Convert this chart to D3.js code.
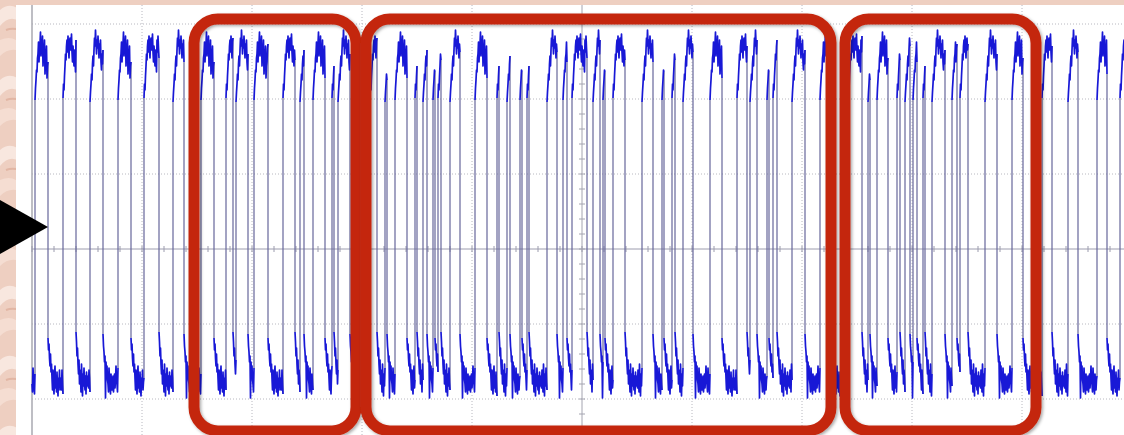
<!DOCTYPE html>
<html>
<head>
<meta charset="utf-8">
<script src="https://cdn.jsdelivr.net/npm/d3@7"></script>
<style>
  body { margin: 0; background: #fff; }
  svg { display: block; }
</style>
</head>
<body>
<div id="chart"></div>
<script>
// edges of each high pulse, in time units (1 div = 110 units)
var riseAt = [3, 31, 58, 86, 112, 141, 169, 194, 204, 222, 251, 268, 281, 300, 306, 333, 338, 353, 363, 383,
  391, 401, 406, 418, 443, 465, 475, 488, 495, 515, 531, 540, 561, 571, 581, 610, 630, 640, 651, 678,
  705, 718, 735, 741, 760, 788, 816, 836, 845, 865, 873, 881, 891, 900, 920, 928, 953, 980, 1010, 1036,
  1065, 1088];
var fallAt = [16, 44, 71, 99, 127, 152, 182, 201, 216, 236, 263, 272, 293, 302, 318, 336, 345, 355, 375, 385,
  395, 403, 409, 428, 455, 467, 478, 490, 497, 525, 535, 555, 568, 573, 593, 621, 632, 643, 661, 690,
  715, 725, 737, 745, 773, 798, 830, 838, 856, 868, 878, 885, 893, 913, 925, 936, 965, 991, 1020, 1046,
  1075, 1100];

// level (mV, 75 mV/div) after a rising edge, one sample every half unit
var highA = [149, 161, 169, 179, 177, 191, 195, 207, 187, 201, 205, 217, 193, 205, 201, 213, 183, 195, 197, 209, 175, 187, 191, 203, 171, 183];
var highB = [151, 165, 159, 173, 183, 195, 189, 203, 209, 197, 213, 201, 191, 207, 211, 199, 205, 215, 197, 187, 203, 193, 183, 199, 189, 177];
var highC = [147, 157, 165, 175, 169, 185, 193, 183, 199, 211, 203, 219, 207, 195, 209, 201, 213, 203, 191, 205, 197, 209, 187, 179, 195, 185];
// level (mV) after a falling edge
var lowA = [-85, -97, -103, -113, -107, -149, -113, -123, -117, -131, -135, -143, -119, -129, -137, -145, -125, -135, -141, -131, -127, -143, -135, -125, -139, -131];
var lowB = [-89, -101, -95, -109, -117, -105, -123, -115, -129, -141, -121, -135, -145, -127, -117, -139, -131, -143, -123, -137, -147, -129, -135, -121, -141, -133];
var lowC = [-83, -93, -107, -99, -115, -125, -111, -135, -121, -129, -143, -115, -131, -147, -125, -137, -119, -133, -141, -127, -145, -123, -137, -131, -127, -139];

// highlighted windows (time units)
var windows = [[162, 324], [334, 799], [813, 1004]];

var width = 1124, height = 435;
var step = 0.5;
var highs = [highA, highB, highC], lows = [lowA, lowB, lowC];

var x = d3.scaleLinear().domain([0, 1100]).range([32, 1132]);
var y = d3.scaleLinear().domain([-225, 225]).range([474, 24]);

var svg = d3.select('#chart').append('svg')
  .attr('width', width)
  .attr('height', height);

var defs = svg.append('defs');
var pat = defs.append('pattern')
  .attr('id', 'paper')
  .attr('patternUnits', 'userSpaceOnUse')
  .attr('width', 46).attr('height', 70);
pat.append('rect').attr('width', 46).attr('height', 70).attr('fill', '#eecfc1');
pat.append('path').attr('d', 'M0 10 Q12 0 24 14 T46 12 L46 22 Q30 30 20 22 T0 26Z').attr('fill', '#f8e7df');
pat.append('path').attr('d', 'M0 40 Q14 34 22 46 T46 44 L46 52 Q34 58 22 52 T0 56Z').attr('fill', '#f5ddd2');
pat.append('path').attr('d', 'M6 30 Q16 26 26 34').attr('stroke', '#e2b6a4').attr('fill', 'none').attr('stroke-width', 2);
pat.append('path').attr('d', 'M20 62 Q30 58 42 66').attr('stroke', '#e6bfae').attr('fill', 'none').attr('stroke-width', 2);

defs.append('filter').attr('id', 'shadow')
  .attr('x', '-10%').attr('y', '-10%').attr('width', '120%').attr('height', '120%')
  .append('feDropShadow')
  .attr('dx', 1.5).attr('dy', 1.5).attr('stdDeviation', 1.8)
  .attr('flood-color', '#000').attr('flood-opacity', 0.35);

// background and screen
svg.append('rect').attr('width', width).attr('height', height).attr('fill', 'url(#paper)');
svg.append('rect').attr('x', 16).attr('y', 5).attr('width', width - 16).attr('height', height - 5).attr('fill', '#fff');

// grid
var grid = svg.append('g').attr('class', 'grid');
var xTicks = d3.range(110, 1100, 110).filter(function(d) { return d !== 550; });
grid.selectAll('line.v').data(xTicks).enter().append('line')
  .attr('x1', d => x(d)).attr('x2', d => x(d))
  .attr('y1', 5).attr('y2', height)
  .attr('stroke', '#b8b8c0').attr('stroke-width', 1).attr('stroke-dasharray', '1,2');
var yTicks = [225, 150, 75, -75, -150];
grid.selectAll('line.h').data(yTicks).enter().append('line')
  .attr('x1', x(0)).attr('x2', width)
  .attr('y1', d => y(d)).attr('y2', d => y(d))
  .attr('stroke', '#b8b8c0').attr('stroke-width', 1).attr('stroke-dasharray', '1,2');

// screen border and centre axes
grid.append('line')
  .attr('x1', x(0)).attr('x2', x(0)).attr('y1', 5).attr('y2', height)
  .attr('stroke', '#a8a8b0').attr('stroke-width', 1.5);
grid.append('line')
  .attr('x1', x(0)).attr('x2', width).attr('y1', y(0)).attr('y2', y(0))
  .attr('stroke', '#9c9cae').attr('stroke-width', 1);
grid.append('line')
  .attr('x1', x(550)).attr('x2', x(550)).attr('y1', 5).attr('y2', height)
  .attr('stroke', '#a4a4b0').attr('stroke-width', 1);
grid.selectAll('line.tx').data(d3.range(0, 1101, 22)).enter().append('line')
  .attr('x1', d => x(d)).attr('x2', d => x(d))
  .attr('y1', y(0) - 3).attr('y2', y(0) + 3)
  .attr('stroke', '#9c9cae');
grid.selectAll('line.ty').data(d3.range(-225, 226, 15)).enter().append('line')
  .attr('x1', x(550) - 3).attr('x2', x(550) + 3)
  .attr('y1', d => y(d)).attr('y2', d => y(d))
  .attr('stroke', '#a4a4b0');

// build the trace: noisy plateaus joined by edges
function levelAt(prof, k) {
  var n = prof.length;
  return k < n ? prof[k] : prof[8 + (k - 8) % (n - 8)];
}
function plateau(t0, t1, prof, off) {
  var pts = [], k = 0;
  for (var t = t0; t < t1; t += step, k++) { pts.push([t, levelAt(prof, k + off)]); }
  pts.push([t1, levelAt(prof, k + off)]);
  return pts;
}
var highSegs = [], lowSegs = [];
lowSegs.push(plateau(0, riseAt[0], lowA, 10));
for (var i = 0; i < riseAt.length; i++) {
  highSegs.push(plateau(riseAt[i], fallAt[i], highs[i % 3], 0));
  var nextRise = i + 1 < riseAt.length ? riseAt[i + 1] : 1100;
  if (nextRise > fallAt[i]) { lowSegs.push(plateau(fallAt[i], nextRise, lows[(i + 1) % 3], 0)); }
}
var plateaus = [];
var edges = [];
lowSegs.forEach(function(l, i) {
  plateaus.push(l);
  if (highSegs[i]) {
    var h = highSegs[i];
    plateaus.push(h);
    edges.push({t: h[0][0], a: l[l.length - 1][1], b: h[0][1]});
    if (lowSegs[i + 1]) {
      edges.push({t: h[h.length - 1][0], a: h[h.length - 1][1], b: lowSegs[i + 1][0][1]});
    }
  }
});

var trace = svg.append('g').attr('class', 'trace');
trace.selectAll('line').data(edges).enter().append('line')
  .attr('x1', d => x(d.t)).attr('x2', d => x(d.t))
  .attr('y1', d => y(d.a)).attr('y2', d => y(d.b))
  .attr('stroke', '#66669a').attr('stroke-width', 1.2);
var line = d3.line().x(d => x(d[0])).y(d => y(d[1]));
trace.selectAll('path').data(plateaus).enter().append('path')
  .attr('d', line)
  .attr('fill', 'none')
  .attr('stroke', '#1818d6')
  .attr('stroke-width', 1.7)
  .attr('stroke-linejoin', 'round');

// highlight boxes
svg.append('g').selectAll('rect').data(windows).enter().append('rect')
  .attr('x', d => x(d[0]))
  .attr('y', y(230))
  .attr('width', d => x(d[1]) - x(d[0]))
  .attr('height', y(-182) - y(230))
  .attr('rx', 24).attr('ry', 24)
  .attr('fill', 'none')
  .attr('stroke', '#c4280f')
  .attr('stroke-width', 11)
  .attr('filter', 'url(#shadow)');

// pointer
var tipX = x(16), tipY = y(22);
svg.append('path')
  .attr('d', 'M' + tipX + ',' + tipY + 'L' + (tipX - 62) + ',' + (tipY - 35) + 'L' + (tipX - 62) + ',' + (tipY + 35) + 'Z')
  .attr('fill', '#000');
</script>
</body>
</html>
